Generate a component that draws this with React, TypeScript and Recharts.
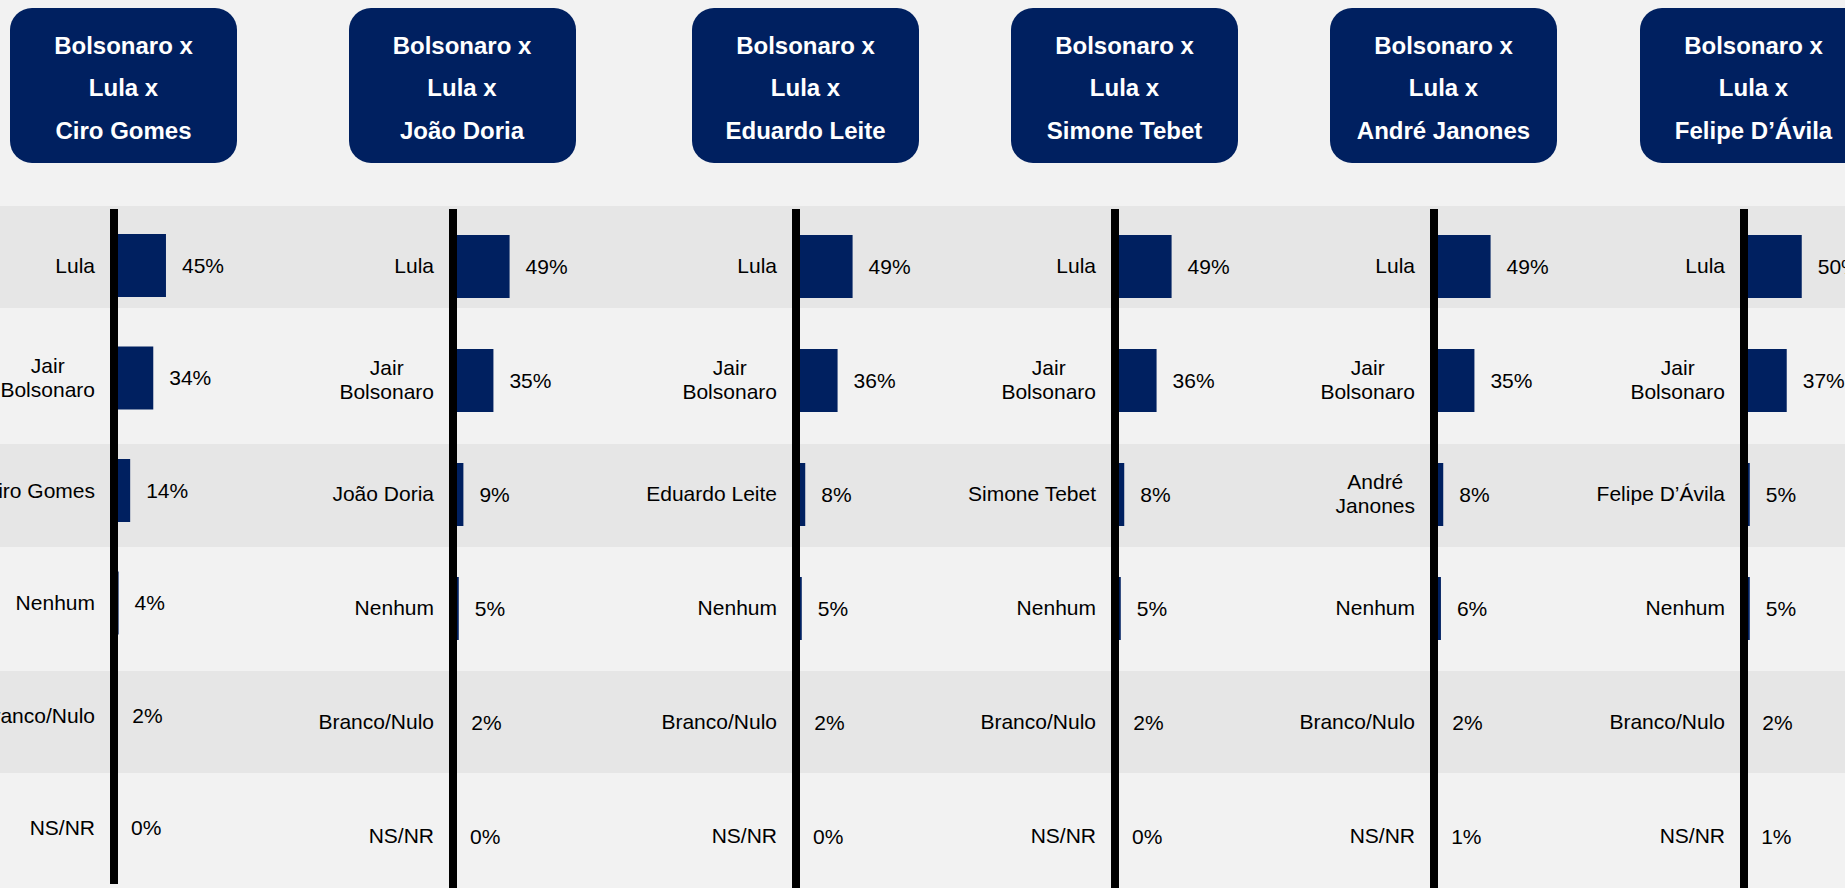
import React from "react"
import { BarChart, Bar, XAxis, YAxis, LabelList } from "recharts"

// Each panel: "Bolsonaro x Lula x <opponent>"
const opponents = ["Ciro Gomes", "João Doria", "Eduardo Leite", "Simone Tebet", "André Janones", "Felipe D’Ávila"]
// row label for the opponent (line breaks as in the slide)
const opponentRowLabels = ["Ciro Gomes", "João Doria", "Eduardo Leite", "Simone Tebet", "André\nJanones", "Felipe D’Ávila"]
const topRows = ["Lula", "Jair\nBolsonaro"]
const bottomRows = ["Nenhum", "Branco/Nulo", "NS/NR"]

// vote share (%) in row order: Lula, Bolsonaro, opponent, Nenhum, Branco/Nulo, NS/NR
const cenarioCiro = [45, 34, 14, 4, 2, 0]
const cenarioDoria = [49, 35, 9, 5, 2, 0]
const cenarioLeite = [49, 36, 8, 5, 2, 0]
const cenarioTebet = [49, 36, 8, 5, 2, 0]
const cenarioJanones = [49, 35, 8, 6, 2, 1]
const cenarioDAvila = [50, 37, 5, 5, 2, 1]

const scenarios = [cenarioCiro, cenarioDoria, cenarioLeite, cenarioTebet, cenarioJanones, cenarioDAvila]

// layout
const FONT = "'Liberation Sans', Arial, Helvetica, sans-serif"
const NAVY = "#002060"
const AXIS_X = [114, 452.5, 796, 1115, 1434, 1744]
const PLOT_TOP = [209.25, 208.5, 208.5, 208.5, 208.5, 208.5]
const ROW_H = [112.5, 114, 114, 114, 114, 114]
const Y_AXIS_W = 200
const PLOT_W = 115.5 // 0..100%
const RIGHT_PAD = 90
const BANDS = [
  [206, 308],
  [444, 547],
  [671, 773],
]

let ctx: CanvasRenderingContext2D | null = null
function textWidth(s: string) {
  if (!ctx) ctx = document.createElement("canvas").getContext("2d")
  if (!ctx) return s.length * 11
  ctx.font = `21px ${FONT}`
  return ctx.measureText(s).width
}

function RowTick(props: any) {
  const { y, payload } = props
  const lines = String(payload.value).split("\n")
  const right = Y_AXIS_W - 19
  const common = { fontSize: 21, fontFamily: FONT, fill: "#000" }
  if (lines.length === 1) {
    return (
      <text x={right} y={y} dy="0.355em" textAnchor="end" {...common}>
        {lines[0]}
      </text>
    )
  }
  const w = Math.max(...lines.map(textWidth))
  const cx = right - w / 2
  return (
    <text textAnchor="middle" {...common}>
      {lines.map((l, i) => (
        <tspan key={i} x={cx} y={y + (i - (lines.length - 1) / 2) * 24} dy="0.355em">
          {l}
        </tspan>
      ))}
    </text>
  )
}

function Panel({ index }: { index: number }) {
  const labels = [...topRows, opponentRowLabels[index], ...bottomRows]
  const data = labels.map((label, i) => ({ label, value: scenarios[index][i] }))
  const height = ROW_H[index] * labels.length
  return (
    <div style={{ position: "absolute", left: AXIS_X[index] - Y_AXIS_W, top: PLOT_TOP[index] }}>
      <BarChart
        width={Y_AXIS_W + PLOT_W + RIGHT_PAD}
        height={height}
        data={data}
        layout="vertical"
        margin={{ top: 0, right: RIGHT_PAD, bottom: 0, left: 0 }}
      >
        <XAxis type="number" domain={[0, 100]} hide />
        <YAxis
          type="category"
          dataKey="label"
          width={Y_AXIS_W}
          interval={0}
          tickLine={false}
          axisLine={{ stroke: "#000", strokeWidth: 8 }}
          tick={RowTick}
        />
        <Bar dataKey="value" fill={NAVY} barSize={63} minPointSize={1} isAnimationActive={false}>
          <LabelList
            dataKey="value"
            position="right"
            offset={16}
            formatter={(v: any) => `${v}%`}
            fontSize={21}
            fontFamily={FONT}
            fill="#000"
          />
        </Bar>
      </BarChart>
    </div>
  )
}

export default function App() {
  return (
    <div
      style={{
        position: "fixed",
        left: 0,
        top: 0,
        width: 1845,
        height: 888,
        overflow: "hidden",
        background: "#f2f2f2",
        fontFamily: FONT,
      }}
    >
      {BANDS.map(([y0, y1], i) => (
        <div key={i} style={{ position: "absolute", left: 0, top: y0, width: 1845, height: y1 - y0, background: "#e6e6e6" }} />
      ))}
      {opponents.map((name, i) => (
        <div
          key={name}
          style={{
            position: "absolute",
            left: AXIS_X[i] - 104,
            top: 8,
            width: 227,
            height: 155,
            boxSizing: "border-box",
            paddingTop: 16.75,
            borderRadius: 22,
            background: NAVY,
            color: "#fff",
            fontWeight: "bold",
            fontSize: 24,
            lineHeight: "42.5px",
            textAlign: "center",
          }}
        >
          <div>Bolsonaro x</div>
          <div>Lula x</div>
          <div>{name}</div>
        </div>
      ))}
      {opponents.map((name, i) => (
        <Panel key={name} index={i} />
      ))}
    </div>
  )
}
